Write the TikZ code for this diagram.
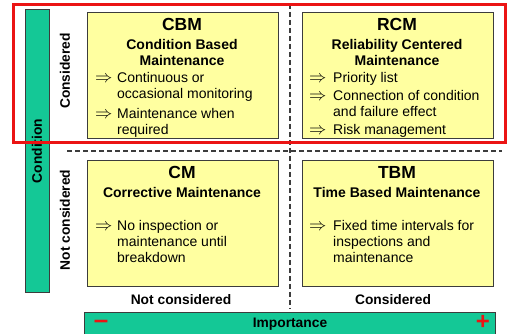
\documentclass[tikz,border=0pt]{standalone}
\usepackage{fontspec}
\setmainfont{Liberation Sans}
\definecolor{barGreen}{RGB}{20,200,150}
\definecolor{boxYellow}{RGB}{255,255,160}
\definecolor{edgeGray}{RGB}{60,60,60}
\definecolor{frameRed}{RGB}{235,20,20}
\newcommand{\bulletline}[2]{\makebox[#1][l]{\fontsize{16}{16}\selectfont$\Rightarrow$}\parbox[t]{170pt}{#2}}
\begin{document}
\begin{tikzpicture}[x=1pt,y=-1pt,
  quad/.style={draw=edgeGray,line width=1pt,fill=boxYellow},
  bar/.style={draw=edgeGray,line width=1pt,fill=barGreen},
  ttl/.style={font=\fontsize{17.5}{18}\selectfont\bfseries,inner sep=0pt},
  sub/.style={font=\fontsize{14}{16}\selectfont\bfseries,inner sep=0pt,align=center},
  itm/.style={font=\fontsize{14}{15.6}\selectfont,inner sep=0pt,anchor=base west},
  axlab/.style={font=\fontsize{13.8}{15}\selectfont\bfseries,inner sep=0pt},
  sep/.style={draw=edgeGray,line width=1.4pt,dash pattern=on 5pt off 3pt}
]
\useasboundingbox (0,0) rectangle (507,334);
\fill[white] (0,0) rectangle (507,334);

% separators
\coordinate (vtop) at (290,4);
\coordinate (vbot) at (290,309);
\coordinate (hl) at (67,151);
\coordinate (hr) at (502,151);
\draw[sep] (vtop) -- (vbot);
\draw[sep] (hl) -- (hr);

% green bars
\node[bar,minimum width=24pt,minimum height=283pt,inner sep=0pt] (condbar) at (37,151) {};
\node[axlab,rotate=90] (condlab) at (condbar.center) {Condition};
\fill[barGreen,draw=edgeGray,line width=1pt] (84,313) rectangle (495,345);
\node[axlab] (implab) at (290,324) {Importance};
\node[font=\fontsize{26}{26}\selectfont\bfseries,text=frameRed,inner sep=0pt] (minus) at (101,324) {–};
\node[font=\fontsize{24}{24}\selectfont\bfseries,text=frameRed,inner sep=0pt] (plus) at (483,322.5) {+};

% axis labels
\node[axlab,rotate=90] (lconsid) at (65,71) {Considered};
\node[axlab,rotate=90] (lnotconsid) at (65,220) {Not considered};
\node[axlab] (bnotconsid) at (181,300) {Not considered};
\node[axlab] (bconsid) at (393,300) {Considered};

% quadrants
\draw[quad] (87,13) rectangle (278,139);
\draw[quad] (302,13) rectangle (493,139);
\draw[quad] (87,161) rectangle (278,287);
\draw[quad] (302,161) rectangle (493,287);

% CBM
\node[ttl] (cbm) at (182,24) {CBM};
\node[sub] (cbmsub) at (182,52) {Condition Based\\Maintenance};
\node[itm] (cbmi1) at (95,83) {\bulletline{22pt}{Continuous or\\occasional monitoring}};
\node[itm] (cbmi2) at (95,119) {\bulletline{22pt}{Maintenance when\\required}};

% RCM
\node[ttl] (rcm) at (397,24) {RCM};
\node[sub] (rcmsub) at (397,52) {Reliability Centered\\Maintenance};
\node[itm] (rcmi1) at (309,83) {\bulletline{24pt}{Priority list}};
\node[itm] (rcmi2) at (309,101) {\bulletline{24pt}{Connection of condition\\and failure effect}};
\node[itm] (rcmi3) at (309,135) {\bulletline{24pt}{Risk management}};

% CM
\node[ttl] (cm) at (182,172) {CM};
\node[sub] (cmsub) at (182,192) {Corrective Maintenance};
\node[itm] (cmi1) at (95,231) {\bulletline{22pt}{No inspection or\\maintenance until\\breakdown}};

% TBM
\node[ttl] (tbm) at (397,172) {TBM};
\node[sub] (tbmsub) at (397,192) {Time Based Maintenance};
\node[itm] (tbmi1) at (309,231) {\bulletline{24pt}{Fixed time intervals for\\inspections and\\maintenance}};

% red highlight frame
\coordinate (rf1) at (13,5);
\coordinate (rf2) at (505,143);
\draw[frameRed,line width=3pt] (rf1) rectangle (rf2);
\end{tikzpicture}
\end{document}
